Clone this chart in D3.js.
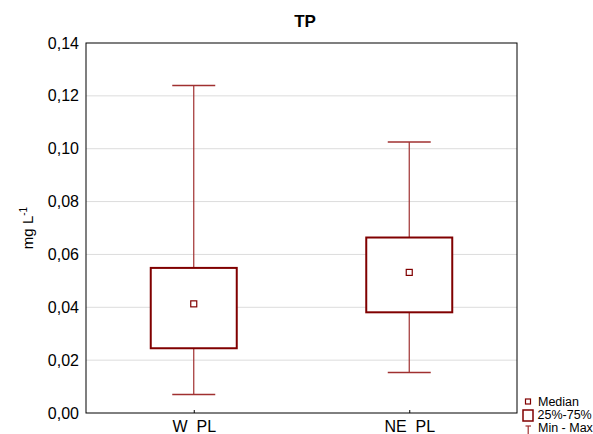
<!DOCTYPE html>
<html>
<head>
<meta charset="utf-8">
<script src="https://cdn.jsdelivr.net/npm/d3@7"></script>
<style>
  body { margin: 0; background: #fff; }
  svg { display: block; font-family: "Liberation Sans", Arial, sans-serif; }
</style>
</head>
<body>
<svg id="chart" width="593" height="434"></svg>
<script>
const categories = ["W  PL", "NE  PL"];
const mins    = [0.0070, 0.0153];
const q1s     = [0.0245, 0.0381];
const medians = [0.0413, 0.0532];
const q3s     = [0.0549, 0.0664];
const maxs    = [0.1239, 0.1025];
const yTicks  = [0, 0.02, 0.04, 0.06, 0.08, 0.10, 0.12, 0.14];

const svg = d3.select("#chart");
const margin = {left: 86, top: 43, right: 76, bottom: 21};
const w = 593 - margin.left - margin.right;
const h = 434 - margin.top - margin.bottom;
const boxColor = "#800000";
const fmt = v => d3.format(".2f")(v).replace(".", ",");

const g = svg.append("g").attr("transform", `translate(${margin.left},${margin.top})`);

const x = d3.scalePoint().domain(categories).range([0, w]).padding(0.5);
const y = d3.scaleLinear().domain([0, 0.14]).range([h, 0]);

// grid
g.selectAll(".grid").data(yTicks.slice(1, -1)).enter().append("line")
  .attr("x1", 0).attr("x2", w)
  .attr("y1", d => y(d)).attr("y2", d => y(d))
  .style("stroke", "#dcdcdc").style("stroke-width", 1);

// frame
g.append("rect").attr("width", w).attr("height", h)
  .style("fill", "none").style("stroke", "#000").style("stroke-width", 1);

// y axis
const yAxis = g.append("g").call(d3.axisLeft(y).tickValues(yTicks).tickFormat(fmt).tickSize(0).tickPadding(7));
yAxis.select(".domain").remove();
yAxis.selectAll("text").style("font-size", "16px").style("fill", "#000")
  .style("font-family", "Liberation Sans, Arial, sans-serif");

// x axis
const xAxis = g.append("g").attr("transform", `translate(0,${h})`)
  .call(d3.axisBottom(x).tickSizeInner(-3).tickSizeOuter(0).tickPadding(8));
xAxis.select(".domain").remove();
xAxis.selectAll("line").style("stroke", "#000");
xAxis.selectAll("text").style("font-size", "16px").style("fill", "#000")
  .style("white-space", "pre").attr("xml:space", "preserve")
  .style("font-family", "Liberation Sans, Arial, sans-serif");

const boxW = 86, capW = 43;
const data = categories.map((c, i) => ({c, min: mins[i], q1: q1s[i], med: medians[i], q3: q3s[i], max: maxs[i]}));

const boxes = g.selectAll(".box").data(data).enter().append("g")
  .attr("transform", d => `translate(${x(d.c)},0)`);

boxes.append("line").attr("x1", 0).attr("x2", 0)
  .attr("y1", d => y(d.max)).attr("y2", d => y(d.q3))
  .style("stroke", "#a03030").style("stroke-width", 1.2);
boxes.append("line").attr("x1", 0).attr("x2", 0)
  .attr("y1", d => y(d.q1)).attr("y2", d => y(d.min))
  .style("stroke", "#a03030").style("stroke-width", 1.2);
boxes.append("line").attr("x1", -capW / 2).attr("x2", capW / 2)
  .attr("y1", d => y(d.max)).attr("y2", d => y(d.max))
  .style("stroke", "#a03030").style("stroke-width", 1.5);
boxes.append("line").attr("x1", -capW / 2).attr("x2", capW / 2)
  .attr("y1", d => y(d.min)).attr("y2", d => y(d.min))
  .style("stroke", "#a03030").style("stroke-width", 1.5);
boxes.append("rect").attr("x", -boxW / 2).attr("width", boxW)
  .attr("y", d => y(d.q3)).attr("height", d => y(d.q1) - y(d.q3))
  .style("fill", "#fff").style("stroke", boxColor).style("stroke-width", 2);
boxes.append("rect").attr("x", -3).attr("width", 6)
  .attr("y", d => y(d.med) - 3).attr("height", 6)
  .style("fill", "#fff").style("stroke", boxColor).style("stroke-width", 1.2);

// title
svg.append("text").attr("x", 305).attr("y", 27).attr("text-anchor", "middle")
  .style("font-size", "17px").style("font-weight", "bold").text("TP");

// y label
const yl = svg.append("text").attr("transform", "translate(33,228) rotate(-90)")
  .attr("text-anchor", "middle").style("font-size", "15px");
yl.append("tspan").text("mg L");
yl.append("tspan").attr("dy", -6).style("font-size", "10px").text("-1");

// legend
const lg = svg.append("g").attr("transform", "translate(522,0)");
lg.append("rect").attr("x", 3.5).attr("y", 399).attr("width", 5).attr("height", 5)
  .style("fill", "#fff").style("stroke", boxColor).style("stroke-width", 1.2);
lg.append("text").attr("x", 16).attr("y", 406).style("font-size", "12.5px").text("Median");
lg.append("rect").attr("x", 1).attr("y", 410).attr("width", 10).attr("height", 11)
  .style("fill", "#fff").style("stroke", boxColor).style("stroke-width", 1.5);
lg.append("text").attr("x", 15.5).attr("y", 419).style("font-size", "12.5px").text("25%-75%");
lg.append("line").attr("x1", 3.5).attr("x2", 9).attr("y1", 426).attr("y2", 426)
  .style("stroke", "#a03030").style("stroke-width", 1.2);
lg.append("line").attr("x1", 6.2).attr("x2", 6.2).attr("y1", 426).attr("y2", 434)
  .style("stroke", "#a03030").style("stroke-width", 1.2);
lg.append("text").attr("x", 16).attr("y", 432).style("font-size", "12.5px").text("Min - Max");
</script>
</body>
</html>
